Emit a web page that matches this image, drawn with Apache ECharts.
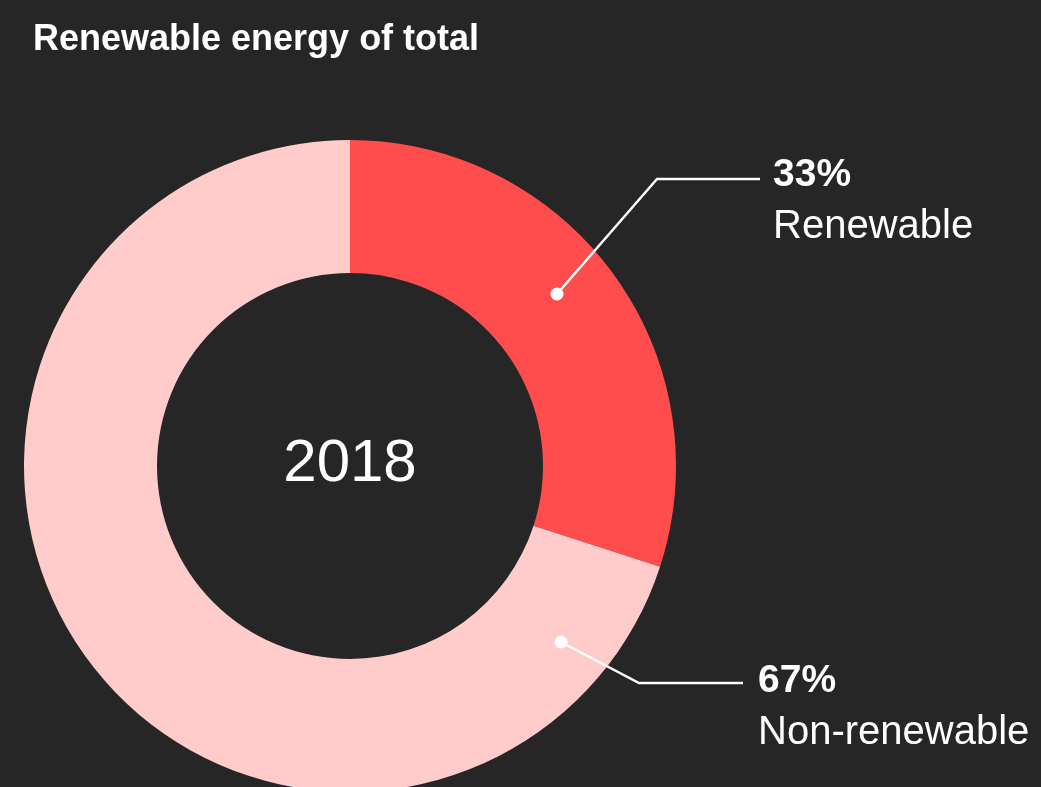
<!DOCTYPE html>
<html>
<head>
<meta charset="utf-8">
<script src="https://cdn.jsdelivr.net/npm/echarts@6/dist/echarts.min.js"></script>
<style>
  html, body { margin: 0; padding: 0; background: #262626; }
  #main { width: 1041px; height: 787px; }
</style>
</head>
<body>
<div id="main"></div>
<script>
// data
const categories = ['Renewable', 'Non-renewable'];
const shares = [30, 70];            // slice sizes as drawn
const shareLabels = ['33%', '67%']; // printed labels
const yearLabel = '2018';

const colors = ['#ff4d4d', '#ffcccb'];
const fontFamily = '"Liberation Sans", Arial, Helvetica, sans-serif';

// callout layout: dot on the ring, elbow, line end, label top-left
const callouts = [
  { dot: [557, 294], elbow: [657, 179], end: [760, 179], label: [773, 149] },
  { dot: [561, 642], elbow: [639, 683], end: [743, 683], label: [758, 655] }
];

const pieCenter = [350, 466];

const chart = echarts.init(document.getElementById('main'));

// leader lines + dots drawn on top of the ring
const calloutGraphics = [];
callouts.forEach(c => {
  calloutGraphics.push({
    type: 'polyline',
    shape: { points: [c.dot, c.elbow, c.end] },
    style: { stroke: '#ffffff', lineWidth: 2.5, fill: null },
    z: 100
  });
  calloutGraphics.push({
    type: 'circle',
    shape: { cx: c.dot[0], cy: c.dot[1], r: 6.5 },
    style: { fill: '#ffffff' },
    z: 101
  });
});

const option = {
  backgroundColor: '#262626',
  animation: false,
  title: {
    text: 'Renewable energy of total',
    left: 28,
    top: 17,
    textStyle: {
      color: '#ffffff',
      fontSize: 36,
      fontWeight: 'bold',
      fontFamily: fontFamily
    }
  },
  graphic: [
    {
      type: 'text',
      x: pieCenter[0],
      y: pieCenter[1] - 2,
      style: {
        text: yearLabel,
        fill: '#ffffff',
        font: '60px ' + fontFamily,
        align: 'center',
        verticalAlign: 'middle'
      }
    }
  ].concat(calloutGraphics),
  series: [
    {
      type: 'pie',
      center: pieCenter,
      radius: [193, 326],
      startAngle: 90,
      clockwise: true,
      avoidLabelOverlap: false,
      silent: true,
      itemStyle: { borderWidth: 0 },
      label: {
        show: true,
        position: 'outside',
        formatter: p => '{b|' + shareLabels[p.dataIndex] + '}\n{n|' + p.name + '}',
        rich: {
          b: { color: '#ffffff', fontSize: 39, fontWeight: 'bold', fontFamily: fontFamily, lineHeight: 52 },
          n: { color: '#ffffff', fontSize: 40, fontFamily: fontFamily, lineHeight: 52 }
        }
      },
      labelLine: { show: false },
      labelLayout: p => {
        const c = callouts[p.dataIndex];
        return {
          x: c.label[0],
          y: c.label[1],
          align: 'left',
          verticalAlign: 'top'
        };
      },
      data: categories.map((name, i) => ({
        name: name,
        value: shares[i],
        itemStyle: { color: colors[i] }
      }))
    }
  ]
};

chart.setOption(option);
</script>
</body>
</html>
